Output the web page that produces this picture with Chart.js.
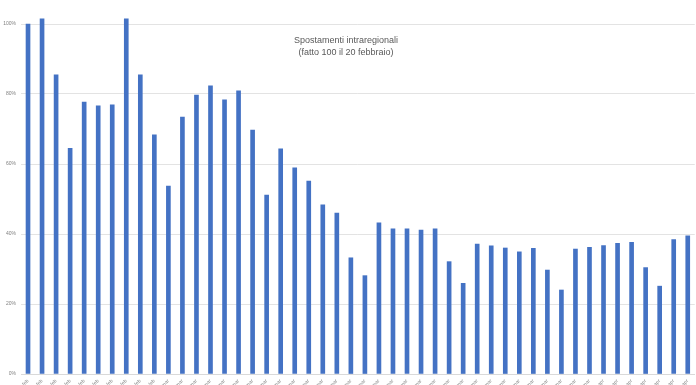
<!DOCTYPE html>
<html>
<head>
<meta charset="utf-8">
<script src="https://cdn.jsdelivr.net/npm/chart.js@4"></script>
<style>
  html, body { margin: 0; padding: 0; background: #fff; overflow: hidden; }
  #wrap { width: 696px; height: 385px; overflow: hidden; }
</style>
</head>
<body>
<div id="wrap"><canvas id="myChart" width="696" height="400"></canvas></div>
<script>
// daily, 20 Feb -> 7 Apr 2020
const days = [
  '20-feb', '21-feb', '22-feb', '23-feb', '24-feb', '25-feb', '26-feb', '27-feb', '28-feb', '29-feb',
  '01-mar', '02-mar', '03-mar', '04-mar', '05-mar', '06-mar', '07-mar', '08-mar', '09-mar', '10-mar',
  '11-mar', '12-mar', '13-mar', '14-mar', '15-mar', '16-mar', '17-mar', '18-mar', '19-mar', '20-mar',
  '21-mar', '22-mar', '23-mar', '24-mar', '25-mar', '26-mar', '27-mar', '28-mar', '29-mar', '30-mar',
  '31-mar', '01-apr', '02-apr', '03-apr', '04-apr', '05-apr', '06-apr', '07-apr'
];

// index, 100 = 20 febbraio
const spostamenti = [
  100, 101.5, 85.5, 64.5, 77.7, 76.6, 76.9, 101.5, 85.5, 68.3,
  53.7, 73.4, 79.7, 82.3, 78.3, 80.9, 69.7, 51.1, 64.3, 58.9,
  55.1, 48.3, 46.0, 33.2, 28.1, 43.2, 41.5, 41.5, 41.1, 41.5,
  32.1, 25.9, 37.1, 36.6, 36.0, 34.9, 35.9, 29.7, 24.0, 35.7,
  36.2, 36.7, 37.3, 37.6, 30.4, 25.1, 38.4, 39.5
];

const yTicks = [0, 20, 40, 60, 80, 100];

const titleLines = ['Spostamenti intraregionali', '(fatto 100 il 20 febbraio)'];

const innerTitle = {
  id: 'innerTitle',
  afterDraw(chart) {
    const ctx = chart.ctx;
    ctx.save();
    ctx.fillStyle = '#595959';
    ctx.font = '9px "Liberation Sans", Arial, sans-serif';
    ctx.textAlign = 'center';
    ctx.textBaseline = 'middle';
    ctx.fillText(titleLines[0], 346, 41);
    ctx.fillText(titleLines[1], 346, 53);
    ctx.restore();
  }
};

new Chart(document.getElementById('myChart'), {
  type: 'bar',
  data: {
    labels: days,
    datasets: [{
      data: spostamenti,
      backgroundColor: '#4472C4',
      barThickness: 4,
      clip: false
    }]
  },
  options: {
    responsive: false,
    animation: false,
    layout: { padding: { top: 24, right: 1, left: 0, bottom: 0 } },
    plugins: {
      legend: { display: false },
      tooltip: { enabled: false }
    },
    scales: {
      x: {
        grid: { display: false, drawTicks: false },
        border: { color: '#d9d9d9' },
        ticks: {
          color: '#8c8c8c',
          font: { size: 5 },
          maxRotation: 45,
          minRotation: 45,
          autoSkip: false,
          padding: 4
        },
        afterFit(scale) { scale.height = 26; }
      },
      y: {
        min: 0,
        max: 100,
        afterBuildTicks(scale) { scale.ticks = yTicks.map(v => ({ value: v })); },
        grid: { color: '#e3e3e3', drawTicks: false },
        border: { display: false },
        ticks: {
          color: '#7f7f7f',
          font: { size: 5 },
          padding: 5,
          callback: v => v + '%'
        },
        afterFit(scale) { scale.width = 21; }
      }
    }
  },
  plugins: [innerTitle]
});
</script>
</body>
</html>
